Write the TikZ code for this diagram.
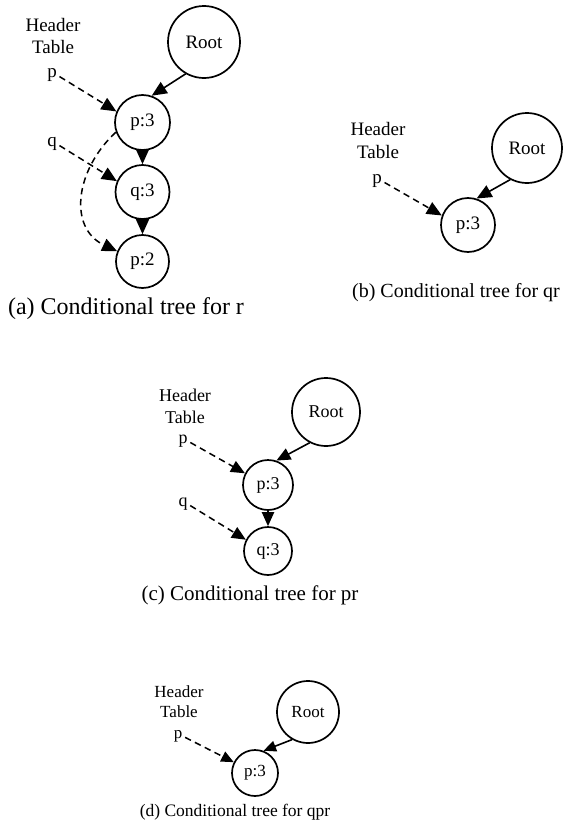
\documentclass[tikz,border=0pt]{standalone}
\usepackage{fontspec}
\setmainfont{Liberation Serif}
\usetikzlibrary{arrows.meta}
\begin{document}
\begin{tikzpicture}[x=1pt,y=-1pt,
  tnode/.style={circle,draw,line width=1.7pt,inner sep=0pt},
  solidarrow/.style={line width=1.6pt,-{Triangle[length=#1,width=0.87*#1]}},
  solidarrow/.default=15pt,
  dasharrow/.style={line width=1.5pt,dash pattern=on 6.5pt off 4.5pt,-{Triangle[length=#1,width=0.87*#1]}},
  dasharrow/.default=15pt,
  lbl/.style={inner sep=0pt,align=center}
]
\useasboundingbox (0,0) rectangle (563,827);

% ---------- (a) ----------
\begin{scope}[font=\fontsize{19}{22}\selectfont]
\node[lbl] (ha) at (53,36) {Header\\Table};
\node[lbl] (pa) at (52,75) {p};
\node[lbl] (qa) at (52,144) {q};
\node[tnode,minimum size=72pt] (roota) at (204,42) {Root};
\node[tnode,minimum size=55pt] (p3a) at (142.5,122.5) {p:3};
\node[tnode,minimum size=54pt] (q3a) at (142.5,192) {q:3};
\node[tnode,minimum size=53pt] (p2a) at (142.5,261.5) {p:2};
\end{scope}
\node[lbl,font=\fontsize{24}{28}\selectfont] (capa) at (126,309) {(a) Conditional tree for r};
\draw[solidarrow] (roota.240) -- (p3a.71);
\draw[solidarrow] (p3a) -- (q3a);
\draw[solidarrow] (q3a) -- (p2a);
\draw[dasharrow,shorten <=3pt] (pa.east) -- (p3a.157);
\draw[dasharrow,shorten <=3pt] (qa.east) -- (q3a.157);
\draw[dasharrow] (p3a.200) .. controls (75,170) and (68,228) .. (p2a.158);

% ---------- (b) ----------
\begin{scope}[font=\fontsize{19}{23}\selectfont]
\node[lbl] (hb) at (378,140) {Header\\Table};
\node[lbl] (pb) at (377,181) {p};
\node[tnode,minimum size=70pt] (rootb) at (527,148) {Root};
\node[tnode,minimum size=54pt] (p3b) at (468,225) {p:3};
\end{scope}
\node[lbl,font=\fontsize{20}{24}\selectfont] (capb) at (456,293) {(b) Conditional tree for qr};
\draw[solidarrow] (rootb.242) -- (p3b.72);
\draw[dasharrow,shorten <=3pt] (pb.east) -- (p3b.160);

% ---------- (c) ----------
\begin{scope}[font=\fontsize{18}{22}\selectfont]
\node[lbl] (hc) at (185,406) {Header\\Table};
\node[lbl] (pc) at (183,441) {p};
\node[lbl] (qc) at (183,504) {q};
\node[tnode,minimum size=68pt] (rootc) at (326,412) {Root};
\node[tnode,minimum size=50pt] (p3c) at (268,485) {p:3};
\node[tnode,minimum size=48pt] (q3c) at (268,551) {q:3};
\end{scope}
\node[lbl,font=\fontsize{21}{25}\selectfont] (capc) at (250,595) {(c) Conditional tree for pr};
\draw[solidarrow=14pt] (rootc.242) -- (p3c.71);
\draw[solidarrow=14pt] (p3c) -- (q3c);
\draw[dasharrow=14pt,shorten <=3pt] (pc.east) -- (p3c.153);
\draw[dasharrow=14pt,shorten <=3pt] (qc.east) -- (q3c.153);

% ---------- (d) ----------
\begin{scope}[font=\fontsize{17}{20}\selectfont]
\node[lbl] (hd) at (179,702) {Header\\Table};
\node[lbl] (pd) at (178,736) {p};
\node[tnode,minimum size=62pt] (rootd) at (308,712) {Root};
\node[tnode,minimum size=46pt] (p3d) at (255,773) {p:3};
\end{scope}
\node[lbl,font=\fontsize{17.5}{21}\selectfont] (capd) at (235,812) {(d) Conditional tree for qpr};
\draw[solidarrow=12.5pt] (rootd.240) -- (p3d.69);
\draw[dasharrow=12.5pt,shorten <=3pt] (pd.east) -- (p3d.153);
\end{tikzpicture}
\end{document}
